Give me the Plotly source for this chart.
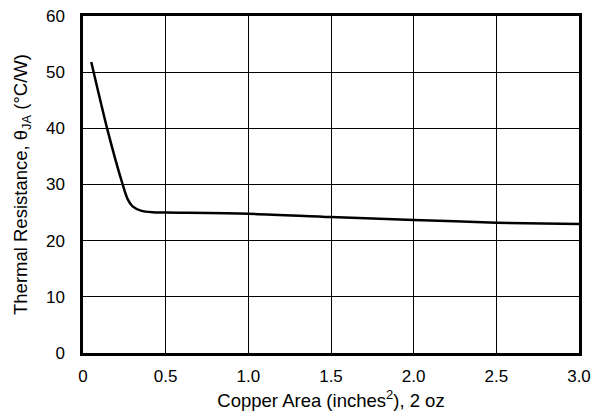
import plotly.graph_objects as go

# copper area (in^2) vs thermal resistance theta_JA (C/W)
area = [0.05, 0.15, 0.24, 0.27, 0.30, 0.35, 0.42, 0.5, 1.0, 1.5, 2.0, 2.5, 3.0]
theta_ja = [51.8, 39.5, 30.0, 27.4, 26.1, 25.35, 25.05, 25.0, 24.8, 24.2, 23.7, 23.2, 22.95]

x_ticks = [0, 0.5, 1.0, 1.5, 2.0, 2.5, 3.0]
x_labels = ["0", "0.5", "1.0", "1.5", "2.0", "2.5", "3.0"]
y_ticks = [0, 10, 20, 30, 40, 50, 60]

fig = go.Figure()
fig.add_trace(go.Scatter(
    x=area, y=theta_ja, mode="lines",
    line=dict(color="black", width=2.5, shape="spline", smoothing=0.8),
    showlegend=False,
))

fig.update_layout(
    width=594, height=417,
    margin=dict(l=83, r=15, t=16, b=64),
    paper_bgcolor="white", plot_bgcolor="white",
    font=dict(family="Liberation Sans, Arial", size=17, color="black"),
)
fig.update_xaxes(
    range=[0, 3.0], tickvals=x_ticks, ticktext=x_labels,
    showgrid=True, gridcolor="black", gridwidth=1,
    showline=True, linecolor="black", linewidth=2.5, mirror=True,
    zeroline=False, ticks="", ticklabelstandoff=6, automargin=False,
    ticklabeloverflow="allow",
    title=dict(text="Copper Area (inches<sup>2</sup>), 2 oz", font=dict(size=18.5), standoff=9),
)
fig.update_yaxes(
    range=[0, 60], tickvals=y_ticks,
    showgrid=True, gridcolor="black", gridwidth=1,
    showline=True, linecolor="black", linewidth=2.5, mirror=True,
    zeroline=False, ticks="", ticklabelstandoff=12, automargin=False,
    ticklabeloverflow="allow",
    title=dict(text="Thermal Resistance, θ<sub>JA</sub> (°C/W)", font=dict(size=18.5), standoff=14),
)

# drop the default 8px page margin so the figure fills the window exactly
fig.write_html("out.html", config={"displayModeBar": False},
               post_script="document.body.style.margin='0';")
